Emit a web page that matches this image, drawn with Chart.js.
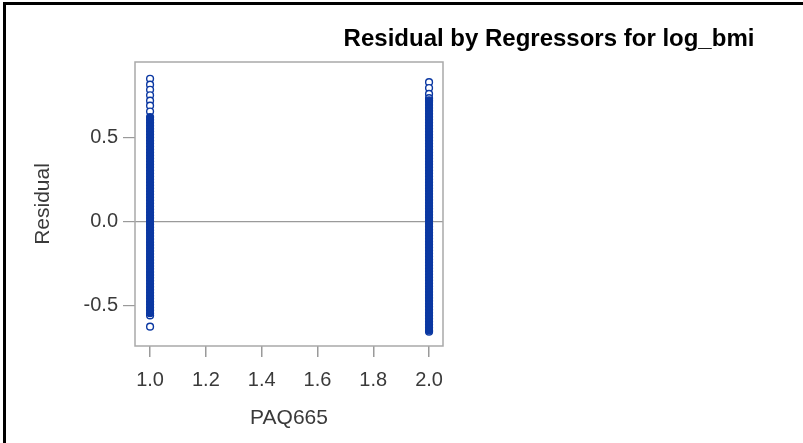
<!DOCTYPE html>
<html>
<head>
  <title>Residual by Regressors for log_bmi</title>
  <style>
    body { margin: 0; background: #fff; }
    #wrap { position: relative; width: 803px; height: 443px; }
    #frame {
      position: absolute; left: 3px; top: 2px; right: 0; bottom: 0;
      border-left: 3px solid #000; border-top: 3px solid #000;
      pointer-events: none;
    }
  </style>
</head>
<body>
  <div id="wrap">
    <canvas id="canvas" width="803" height="443"></canvas>
    <div id="frame"></div>
  </div>
  <script src="https://cdn.jsdelivr.net/npm/chart.js"></script>
  <script>
    // residuals, PAQ665 = 1 and PAQ665 = 2
    var paq1Dense = [-0.545, -0.528, -0.511, -0.493, -0.476, -0.458, -0.441, -0.423, -0.405, -0.388,
      -0.370, -0.352, -0.334, -0.317, -0.299, -0.281, -0.264, -0.246, -0.228, -0.210,
      -0.193, -0.175, -0.157, -0.139, -0.122, -0.104, -0.086, -0.068, -0.051, -0.033,
      -0.015, 0.003, 0.021, 0.038, 0.056, 0.074, 0.092, 0.109, 0.127, 0.145,
      0.163, 0.181, 0.198, 0.216, 0.234, 0.252, 0.269, 0.287, 0.305, 0.323,
      0.340, 0.358, 0.376, 0.394, 0.411, 0.429, 0.447, 0.465, 0.482, 0.500,
      0.518, 0.536, 0.553, 0.571, 0.589, 0.606, 0.622];
    var paq1Sparse = [0.85, 0.815, 0.785, 0.752, 0.72, 0.69, 0.655, -0.558, -0.625];
    var paq2Dense = [-0.648, -0.631, -0.613, -0.596, -0.578, -0.560, -0.543, -0.525, -0.507, -0.490,
      -0.472, -0.454, -0.437, -0.419, -0.401, -0.384, -0.366, -0.348, -0.331, -0.313,
      -0.295, -0.278, -0.260, -0.242, -0.225, -0.207, -0.189, -0.172, -0.154, -0.136,
      -0.119, -0.101, -0.083, -0.066, -0.048, -0.030, -0.013, 0.005, 0.023, 0.040,
      0.058, 0.076, 0.093, 0.111, 0.129, 0.146, 0.164, 0.182, 0.199, 0.217,
      0.235, 0.252, 0.270, 0.288, 0.305, 0.323, 0.341, 0.358, 0.376, 0.394,
      0.411, 0.429, 0.447, 0.464, 0.482, 0.500, 0.517, 0.535, 0.553, 0.570,
      0.588, 0.606, 0.623, 0.641, 0.659, 0.676, 0.694, 0.712, 0.722];
    var paq2Sparse = [0.83, 0.795, 0.76, 0.735, -0.655];
    var xTickValues = [1.0, 1.2, 1.4, 1.6, 1.8, 2.0];
    var yTickValues = [-0.5, 0.0, 0.5];

    var blue = '#0b38a2';

    function toPoints(x, values) {
      return values.map(v => ({x: x, y: v}));
    }

    var plotFrame = {
      id: 'plotFrame',
      afterDatasetsDraw: function(chart) {
        var a = chart.chartArea, ctx = chart.ctx;
        ctx.save();
        ctx.strokeStyle = '#a9a9a9';
        ctx.lineWidth = 1.5;
        ctx.strokeRect(a.left, a.top, a.right - a.left, a.bottom - a.top);
        ctx.restore();
      }
    };

    var sideTitle = {
      id: 'sideTitle',
      afterDraw: function(chart) {
        var ctx = chart.ctx;
        ctx.save();
        ctx.font = 'bold 24px "Liberation Sans", Arial, sans-serif';
        ctx.fillStyle = '#000';
        ctx.textAlign = 'center';
        ctx.textBaseline = 'middle';
        ctx.fillText('Residual by Regressors for log_bmi', 549, 39);
        ctx.restore();
      }
    };

    var tickFont = {family: '"Liberation Sans", Arial, sans-serif', size: 20};
    var labelFont = {family: '"Liberation Sans", Arial, sans-serif', size: 21};

    var config = {
      type: 'scatter',
      data: {
        datasets: [
          {data: toPoints(1, paq1Dense), pointBackgroundColor: blue},
          {data: toPoints(2, paq2Dense), pointBackgroundColor: blue},
          {data: toPoints(1, paq1Sparse), pointBackgroundColor: '#fff'},
          {data: toPoints(2, paq2Sparse), pointBackgroundColor: '#fff'}
        ]
      },
      options: {
        responsive: false,
        animation: false,
        layout: {padding: {top: 62, right: 360, left: 0, bottom: 0}},
        elements: {
          point: {radius: 3.4, borderWidth: 1.4, borderColor: blue, hoverRadius: 3.4}
        },
        plugins: {legend: {display: false}, tooltip: {enabled: false}},
        scales: {
          x: {
            type: 'linear',
            min: 0.946,
            max: 2.05,
            afterBuildTicks: function(scale) {
              scale.ticks = xTickValues.map(v => ({value: v}));
            },
            afterFit: function(scale) { scale.height = 97; },
            ticks: {
              font: tickFont, color: '#3a3a3a', padding: 11,
              callback: v => v.toFixed(1)
            },
            grid: {drawOnChartArea: false, tickLength: 11, tickColor: '#9a9a9a', lineWidth: 1.5},
            border: {display: false},
            title: {display: true, text: 'PAQ665', font: labelFont, color: '#3a3a3a', padding: {top: 12, bottom: 12}}
          },
          y: {
            min: -0.74,
            max: 0.95,
            afterBuildTicks: function(scale) {
              scale.ticks = yTickValues.map(v => ({value: v}));
            },
            afterFit: function(scale) { scale.width = 135; },
            ticks: {
              font: tickFont, color: '#3a3a3a', padding: 5,
              callback: v => v.toFixed(1)
            },
            grid: {
              color: ctx => (ctx.tick && ctx.tick.value === 0) ? '#9a9a9a' : 'rgba(0,0,0,0)',
              lineWidth: 1.2,
              tickLength: 12,
              tickColor: '#9a9a9a'
            },
            border: {display: false},
            title: {display: true, text: 'Residual', font: labelFont, color: '#3a3a3a', padding: {top: 31, bottom: 31}}
          }
        }
      },
      plugins: [plotFrame, sideTitle]
    };

    window.onload = function() {
      var ctx = document.getElementById('canvas').getContext('2d');
      window.myChart = new Chart(ctx, config);
    };
  </script>
</body>
</html>
